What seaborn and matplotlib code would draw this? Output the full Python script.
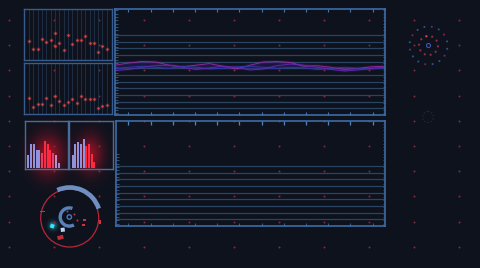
import numpy as np
import pandas as pd
import matplotlib
matplotlib.use("Agg")
import matplotlib.pyplot as plt
import seaborn as sns
from matplotlib.patches import Circle, Wedge, Rectangle, Polygon
from matplotlib.ticker import FixedLocator

# ---------------- data ----------------
scatter1_x = [0, 1, 2, 3, 4, 5, 6, 6, 7, 8, 9, 10, 11, 12, 13, 14, 15, 16, 17, 18]
scatter1_y = [37, 21, 21, 41, 35, 40, 54, 27, 33, 19, 49, 32, 39, 40, 47, 33, 33, 16, 28, 22]
scatter2_x = [0, 1, 2, 3, 4, 5, 6, 7, 8, 9, 10, 11, 12, 13, 14, 15, 16, 17, 18]
scatter2_y = [31, 14, 20, 20, 31, 18, 36, 25, 17, 23, 30, 21, 36, 29, 30, 30, 11, 15, 18]

bars1 = [27, 51, 51, 38, 38, 33, 58, 51, 38, 33, 27, 10]
bars1_tone = ["lav", "lav", "lav", "lav", "lav", "pink", "red", "red", "red", "pink", "pale", "lav"]
bars2 = [27, 51, 55, 52, 62, 47, 51, 30, 14]
bars2_tone = ["lav", "lav", "lav", "lav", "lav", "red", "red", "red", "red"]

wave_x = [0, 5, 10, 15, 20, 25, 30, 35, 40, 45, 50, 55, 60, 65, 70, 75, 80, 85, 90, 95, 100]
wave_magenta = [47, 49, 50.5, 50, 47, 45.5, 47, 48.5, 46, 43.5, 47, 50, 50.5, 49.5, 46, 46.5, 45, 43, 44, 45.5, 46]
wave_blue = [44, 45, 46, 45, 44, 46, 45, 43.5, 44, 45.5, 46, 45, 44, 45, 44.5, 43, 44, 45, 44, 43.5, 44.5]
wave_violet = [42, 43, 45, 46.5, 47, 45, 43, 44.5, 46, 45, 42.5, 43.5, 46.5, 48, 47, 45, 43, 41.5, 42.5, 44, 45]

# ---------------- style ----------------
W, H = 480, 268
BG = "#0e121d"
sns.set_theme(style="dark", rc={"axes.facecolor": "none", "figure.facecolor": BG,
                                "savefig.facecolor": BG})
fig = plt.figure(figsize=(4.8, 2.68), dpi=100)

FRAME = "#3d6ca6"
GRID = "#2a4564"
TICK = "#4676b0"
TONES = {"lav": "#8f92dc", "pink": "#e0406a", "red": "#ff2a40", "pale": "#b98fcc"}


def px_axes(x0, y0, x1, y1):
    a = fig.add_axes([x0 / W, 1 - y1 / H, (x1 - x0) / W, (y1 - y0) / H])
    a.set_facecolor("none")
    return a


def style_frame(a, color=FRAME, lw=1.0):
    for s in a.spines.values():
        s.set_visible(True)
        s.set_color(color)
        s.set_linewidth(lw)
    a.set(xlabel="", ylabel="")


# ---------------- background layer ----------------
bg = px_axes(0, 0, W, H)
bg.axis("off")
yy, xx = np.mgrid[0:H, 0:W] + 0.5


def blob(cx, cy, sx, sy):
    return np.exp(-(((xx - cx) / sx) ** 2 + ((yy - cy) / sy) ** 2) / 2)


red_a = np.clip(0.6 * blob(48, 155, 11, 14) + 0.55 * blob(90, 154, 9, 13), 0, 0.78)
img = np.zeros((H, W, 4))
img[..., 0], img[..., 1], img[..., 2], img[..., 3] = 0.95, 0.08, 0.18, red_a
bg.imshow(img, extent=(0, W, H, 0), interpolation="bilinear", zorder=1)
cy_a = 0.5 * blob(53, 225.5, 3, 3)
img2 = np.zeros((H, W, 4))
img2[..., 0], img2[..., 1], img2[..., 2], img2[..., 3] = 0.2, 0.85, 0.95, cy_a
bg.imshow(img2, extent=(0, W, H, 0), interpolation="bilinear", zorder=1)

gx, gy = np.meshgrid(9 + 45 * np.arange(11), 20 + 25.2 * np.arange(10))
bg.scatter(gx.ravel(), gy.ravel(), s=2.0, color="#862a3a", linewidths=0, zorder=2)

# gauge
C = (69.7, 218.0)
bg.add_patch(Circle(C, 29, fill=False, ec="#b82638", lw=0.9, zorder=3))
bg.add_patch(Wedge(C, 32.8, -114, -18, width=4.6, fc="#6f8ec2", ec="none", zorder=4))
C2 = (69.3, 217.0)
bg.add_patch(Wedge(C2, 10.8, 60, 290, width=3.4, fc="#5a80b8", ec="none", zorder=4))
bg.add_patch(Circle(C2, 2.2, fill=False, ec="#4a78c0", lw=1.0, zorder=4))
bg.add_patch(Rectangle((51, 223.5), 4, 4, angle=20, fc="#35e5f5", ec="none", zorder=4))
bg.add_patch(Polygon([(60.5, 228), (64.5, 227.5), (65, 231.5), (61, 232)], fc="#b8d4f2", ec="none", zorder=4))
bg.add_patch(Rectangle((57, 236.3), 6, 4, angle=-15, fc="#c02c3c", ec="none", zorder=4))
bg.add_patch(Rectangle((83.2, 218.5), 2.5, 2.5, fc="#c83444", ec="none", zorder=4))
bg.add_patch(Rectangle((82.2, 223.5), 2.5, 2.5, fc="#c83444", ec="none", zorder=4))
bg.add_patch(Rectangle((40, 210.5), 4.5, 1.6, fc="#d03040", ec="none", zorder=4))
bg.add_patch(Rectangle((99.3, 219.5), 1.3, 4, fc="#d03040", ec="none", zorder=4))
bg.scatter([73.5, 76.5, 66.5], [213.5, 219.5, 210.5], s=2.0, color="#c03444", linewidths=0, zorder=4)

# radar
R = (428.5, 45.5)
ang_o = np.deg2rad(np.arange(0, 360, 22.5) + 10)
col_o = ["#33508a", "#5a3470", "#33508a", "#33508a", "#702a48", "#33508a", "#33508a", "#5a3470",
         "#33508a", "#702a48", "#33508a", "#33508a", "#5a3470", "#33508a", "#702a48", "#33508a"]
bg.scatter(R[0] + 19 * np.cos(ang_o), R[1] + 19 * np.sin(ang_o), s=2.2, c=col_o, linewidths=0, zorder=3)
ang_i = np.deg2rad(np.arange(0, 360, 36) + 5)
col_i = ["#8c2a50"] * 10
col_i[7] = "#e0406a"
bg.scatter(R[0] + 9.5 * np.cos(ang_i), R[1] + 9.5 * np.sin(ang_i), s=2.6, c=col_i, linewidths=0, zorder=3)
bg.add_patch(Circle(R, 2.0, fill=False, ec="#3a58b0", lw=0.8, zorder=3))
bg.add_patch(Circle((428, 117), 5.5, fill=False, ec="#26273f", lw=0.9, ls=":", zorder=3))

bg.set_xlim(0, W)
bg.set_ylim(H, 0)

# ---------------- scatter panels ----------------
for (x0, y0, x1, y1), xs, ys in [((24, 9, 112, 60), scatter1_x, scatter1_y),
                                 ((24, 63, 112, 114), scatter2_x, scatter2_y)]:
    a = px_axes(x0, y0, x1, y1)
    sns.scatterplot(x=xs, y=ys, ax=a, s=12, color="#b83a3c", alpha=0.15, linewidth=0)
    sns.scatterplot(x=xs, y=ys, ax=a, s=3.2, color="#d8474a", linewidth=0)
    a.set_xlim(-1.16, 19.2)
    a.set_ylim(-1, 101)
    a.set_xticks(range(19))
    a.set_yticks([])
    a.grid(axis="x", color="#22324a", lw=0.6)
    a.tick_params(length=0, labelbottom=False, labelleft=False)
    style_frame(a, "#385c8e")

# ---------------- bar panels ----------------
for (x0, y0, x1, y1), vals, tones, xl in [((24.7, 120.7, 67.7, 168.7), bars1, bars1_tone, (-1.3, 14.3)),
                                          ((69.3, 120.7, 112.7, 168.7), bars2, bars2_tone, (-1.26, 14.8))]:
    a = px_axes(x0, y0, x1, y1)
    labels = [f"b{i}" for i in range(len(vals))]
    pal = {lab: TONES[t] for lab, t in zip(labels, tones)}
    sns.barplot(x=labels, y=vals, hue=labels, palette=pal, legend=False, width=0.75,
                saturation=1, edgecolor="none", linewidth=0, ax=a)
    a.set_xlim(*xl)
    a.set_ylim(-1, 100)
    a.set_xticks([])
    a.set_yticks([])
    style_frame(a, "#4d6a9c", 1.0)

# ---------------- main top chart ----------------
top = px_axes(115, 9, 385, 115)
wdf = pd.DataFrame({"x": wave_x * 3,
                    "y": wave_magenta + wave_blue + wave_violet,
                    "s": ["m"] * 21 + ["b"] * 21 + ["v"] * 21})
wpal = {"m": "#9a2aa8", "b": "#2c3aa8", "v": "#6428b0"}
lo = np.minimum(np.minimum(wave_magenta, wave_blue), wave_violet)
hi = np.maximum(np.maximum(wave_magenta, wave_blue), wave_violet)
top.fill_between(wave_x, lo, hi, color="#2a1c78", alpha=0.35, lw=0)
sns.lineplot(data=wdf, x="x", y="y", hue="s", palette=wpal, lw=2.5, alpha=0.12, legend=False, ax=top)
sns.lineplot(data=wdf, x="x", y="y", hue="s", palette=wpal, lw=0.7, alpha=0.9, legend=False, ax=top)
top.set_xlim(0, 100)
top.set_ylim(0, 100)
xt_top = [(128.3 + 22.2 * k - 115) / 270 * 100 for k in range(12)]
top.set_xticks(xt_top)
top.tick_params(axis="x", which="major", direction="in", length=2.5, width=0.8, color=TICK,
                top=True, bottom=True, labelbottom=False, labeltop=False)
yl_top = [(115 - (35 + 6.67 * k)) / 106 * 100 for k in range(12)]
top.set_yticks(yl_top)
top.grid(axis="y", color=GRID, lw=0.9)
top.grid(axis="x", visible=False)
top.yaxis.set_minor_locator(FixedLocator(np.arange(1.5, 100, 3.14)))
top.tick_params(axis="y", which="major", length=0, labelleft=False)
top.tick_params(axis="y", which="minor", direction="in", length=1.8, width=0.6, color="#3a5f8a",
                left=True, right=True)
top.set(xlabel="", ylabel="")
style_frame(top, FRAME, 1.2)

# ---------------- main bottom chart ----------------
bot = px_axes(116, 121, 385, 225.7)
bot.set_xlim(0, 100)
bot.set_ylim(0, 100)
xt_bot = [(128.3 + 22.2 * k - 116) / 269 * 100 for k in range(12)]
bot.set_xticks(xt_bot)
bot.tick_params(axis="x", which="major", direction="in", length=2.2, width=0.8, color="#34598a",
                top=False, bottom=True, labelbottom=False)
sec = bot.secondary_xaxis("top")
sec.set_xticks(xt_bot)
sec.tick_params(axis="x", direction="in", length=3.2, width=0.9, color="#4a86c8", labeltop=False)
sec.spines["top"].set_visible(False)
yl_bot = [(225.7 - (166 + 6.67 * k)) / 104.7 * 100 for k in range(9)]
bot.set_yticks(yl_bot)
bot.grid(axis="y", color=GRID, lw=0.9)
bot.grid(axis="x", visible=False)
bot.yaxis.set_minor_locator(FixedLocator(np.arange(2.0, 70, 3.18)))
bot.tick_params(axis="y", which="major", length=0, labelleft=False)
bot.tick_params(axis="y", which="minor", direction="in", length=1.8, width=0.6, color="#3a5f8a",
                left=True, right=False)
tw = bot.twinx()
tw.set_ylim(0, 100)
tw.set_yticks([])
tw.yaxis.set_minor_locator(FixedLocator(np.arange(2.0, 100, 3.18)))
tw.tick_params(axis="y", which="minor", direction="in", length=1.8, width=0.6, color="#3a5f8a",
               right=True, left=False)
for s in tw.spines.values():
    s.set_visible(False)
style_frame(bot, FRAME, 1.2)

fig.savefig("out.png", dpi=100, facecolor=BG)
